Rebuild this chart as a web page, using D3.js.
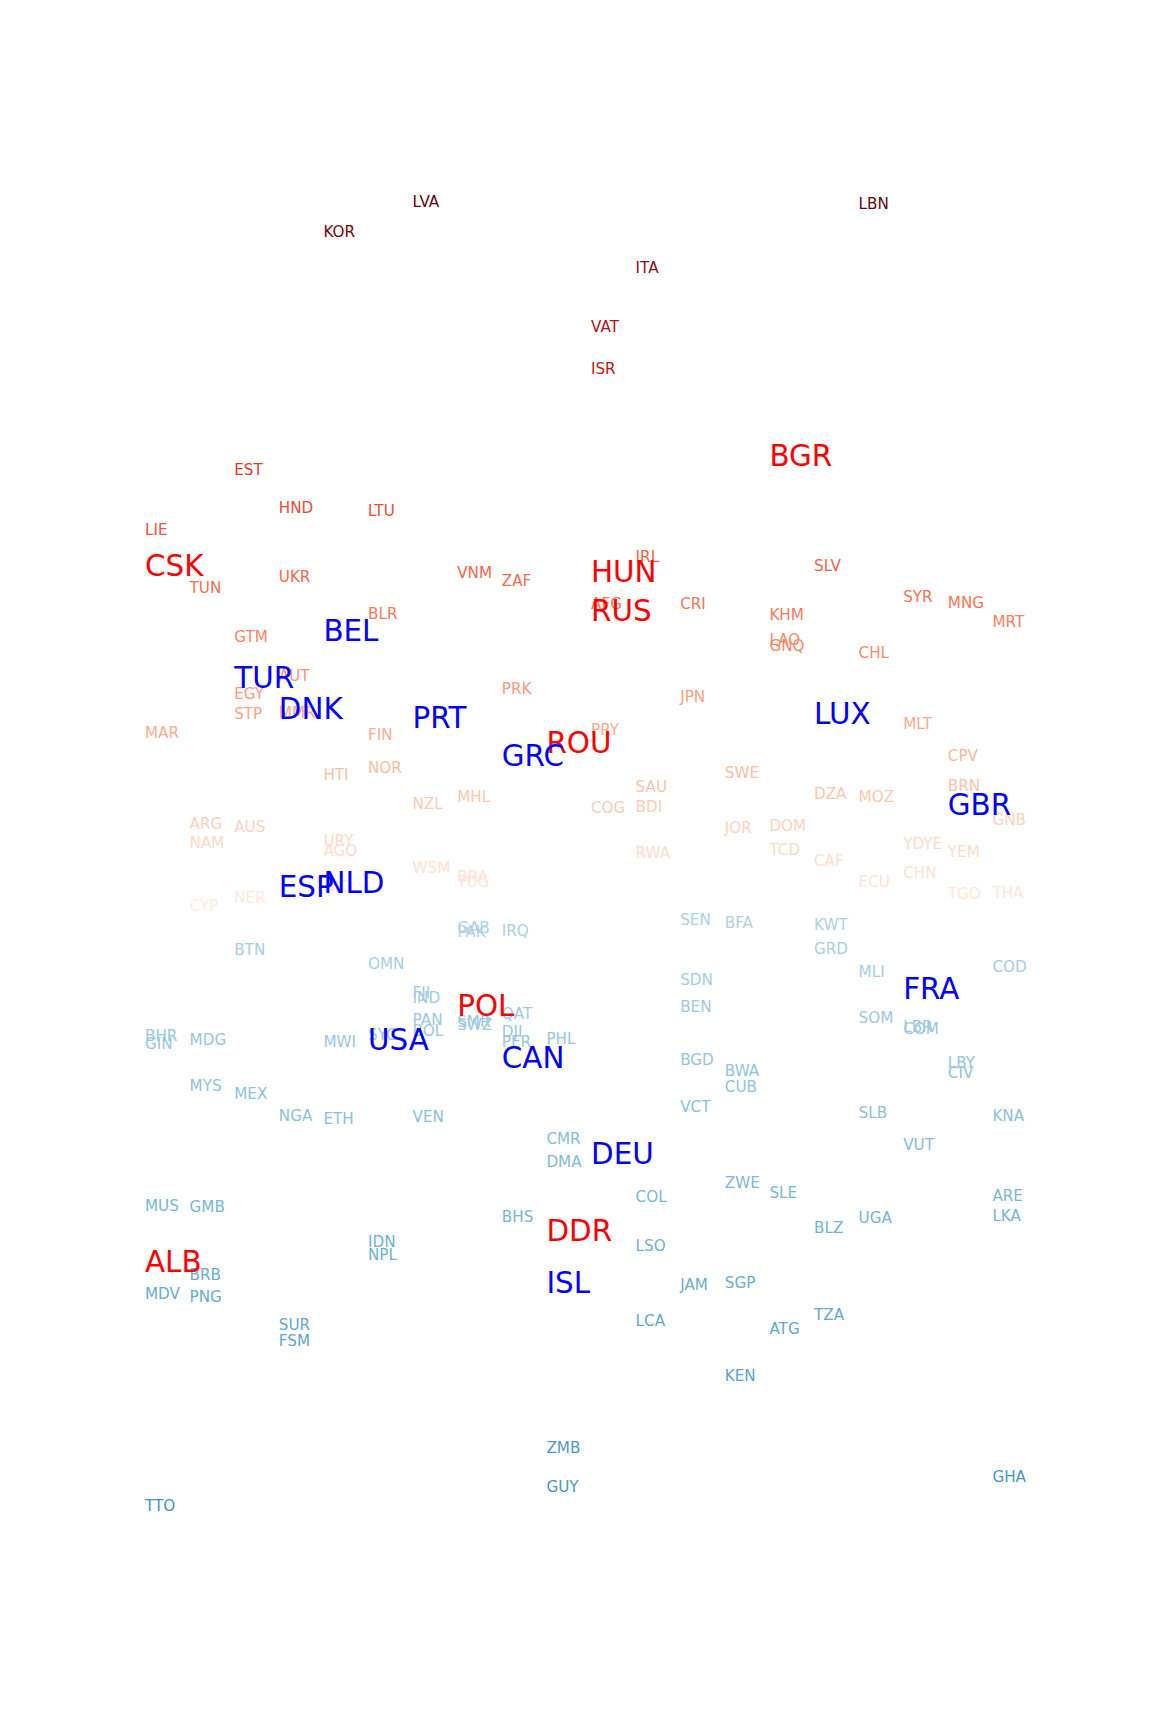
<!DOCTYPE html>
<html><head><meta charset="utf-8">
<script src="https://cdn.jsdelivr.net/npm/d3@7"></script>
<style>body{margin:0;background:#fff}svg{display:block}</style>
</head><body>
<svg id="chart" width="1152" height="1728"></svg>
<script>
// Country codes, their column (x category) and score (y value)
const codes = ["LVA","LBN","KOR","ITA","VAT","ISR","BGR","EST","HND","LTU","LIE","IRL","CSK","SLV","HUN","VNM","UKR","ZAF","TUN","SYR","MNG","AFG","CRI","RUS","BLR","KHM","MRT","BEL","GTM","LAO","GNQ","CHL","AUT","TUR","PRK","EGY","JPN","DNK","MMR","LUX","STP","PRT","MLT","PRY","MAR","FIN","ROU","GRC","CPV","NOR","SWE","HTI","BRN","SAU","DZA","MHL","MOZ","NZL","GBR","BDI","COG","GNB","ARG","DOM","AUS","JOR","URY","NAM","YDYE","TCD","AGO","YEM","RWA","CAF","WSM","CHN","BRA","YUG","ECU","NLD","NIC","ESP","THA","TGO","NER","CYP","SEN","BFA","KWT","GAB","IRQ","PAK","GRD","BTN","OMN","COD","MLI","SDN","FRA","FJI","IND","POL","BEN","QAT","SOM","PAN","SMR","SWZ","LBR","COM","BOL","DJI","SYC","BHR","PHL","USA","MDG","PER","MWI","GIN","CAN","BGD","LBY","BWA","CIV","MYS","CUB","MEX","VCT","SLB","KNA","NGA","VEN","ETH","CMR","VUT","DEU","DMA","ZWE","SLE","ARE","COL","MUS","GMB","LKA","BHS","UGA","BLZ","DDR","IDN","LSO","NPL","ALB","BRB","SGP","ISL","JAM","MDV","PNG","TZA","LCA","SUR","ATG","FSM","KEN","ZMB","GHA","GUY","TTO"];
const columns = [6,16,4,11,10,10,14,2,3,5,0,11,0,15,10,7,3,8,1,17,18,10,12,10,5,14,19,4,2,14,14,16,3,2,8,2,12,3,3,15,2,6,17,10,0,5,9,8,18,5,13,4,18,11,15,7,16,6,18,11,10,19,1,14,2,13,4,1,17,14,4,18,11,15,6,17,7,7,16,4,4,3,19,18,2,1,12,13,15,7,8,7,15,2,5,19,16,12,17,6,6,7,12,8,16,6,7,7,17,17,6,8,5,0,9,5,1,8,4,0,8,12,18,13,18,1,13,2,12,16,19,3,6,4,9,17,10,9,13,14,19,11,0,1,19,8,16,15,9,5,11,5,0,1,13,9,12,0,1,15,11,3,14,3,13,9,19,9,0];
const scores = [64.3,64.1,61.6,58.3,52.9,49.1,41.2,39.9,36.5,36.2,34.5,32.0,31.2,31.2,30.7,30.6,30.2,29.8,29.2,28.4,27.8,27.7,27.7,27.1,26.8,26.7,26.1,25.3,24.7,24.5,23.9,23.3,21.2,21.0,20.0,19.6,19.3,18.2,17.8,17.8,17.7,17.4,16.8,16.3,16.0,15.8,15.1,13.9,13.9,12.8,12.4,12.2,11.2,11.1,10.5,10.2,10.2,9.6,9.5,9.3,9.2,8.1,7.7,7.6,7.5,7.4,6.2,6.0,5.9,5.4,5.3,5.2,5.1,4.4,3.7,3.3,2.9,2.5,2.5,2.4,2.0,2.0,1.5,1.4,1.0,0.3,-1.0,-1.3,-1.4,-1.7,-2.0,-2.1,-3.6,-3.7,-5.0,-5.3,-5.7,-6.4,-7.2,-7.6,-8.1,-8.8,-8.9,-9.5,-9.9,-10.1,-10.3,-10.5,-10.7,-10.9,-11.1,-11.2,-11.4,-11.5,-11.8,-11.9,-11.9,-12.1,-12.1,-12.3,-13.5,-13.7,-14.0,-14.7,-14.9,-16.1,-16.2,-16.8,-18.0,-18.5,-18.8,-18.8,-18.9,-19.1,-20.9,-21.4,-22.2,-23.0,-24.9,-25.8,-26.1,-26.2,-27.0,-27.1,-27.9,-28.0,-28.1,-29.0,-29.2,-30.3,-30.6,-31.4,-32.1,-33.3,-34.0,-34.0,-34.2,-35.0,-35.3,-36.9,-37.4,-37.8,-38.2,-39.3,-42.4,-49.0,-51.6,-52.5,-54.3];
// Highlighted blocs
const natoCodes = ["BEL","TUR","DNK","PRT","LUX","GRC","GBR","NLD","ESP","FRA","USA","CAN","DEU","ISL"];
const warsawCodes = ["BGR","CSK","HUN","RUS","ROU","POL","DDR","ALB"];

const data = codes.map((c, i) => ({
  code: c, col: columns[i], score: scores[i],
  bloc: natoCodes.includes(c) ? "nato" : (warsawCodes.includes(c) ? "warsaw" : "other")
}));

const svg = d3.select("#chart");
const x = d3.scaleLinear().domain([0, 19]).range([145, 992.4]);
const y = d3.scaleLinear().domain([-60, 70]).range([1568.6, 138.6]);

const redT = d3.scaleLinear().domain([0, 64.3]).range([0.06, 1]).clamp(true);
const blueT = d3.scaleLinear().domain([0, -54.3]).range([0.32, 0.62]).clamp(true);
function color(d) {
  if (d.bloc === "nato") return "#0000ff";
  if (d.bloc === "warsaw") return "#ff0000";
  return d.score >= 0 ? d3.interpolateReds(redT(d.score)) : d3.interpolateBlues(blueT(d.score));
}
const size = d => d.bloc === "other" ? 15.2 : 29.4;

const ordered = data.filter(d => d.bloc === "other").concat(data.filter(d => d.bloc !== "other"));

svg.append("g")
  .attr("font-family", "DejaVu Sans, sans-serif")
  .selectAll("text")
  .data(ordered)
  .join("text")
  .attr("x", d => x(d.col))
  .attr("y", d => y(d.score) + 0.364 * size(d))
  .attr("font-size", d => size(d))
  .attr("fill", color)
  .text(d => d.code);
</script>
</body></html>
